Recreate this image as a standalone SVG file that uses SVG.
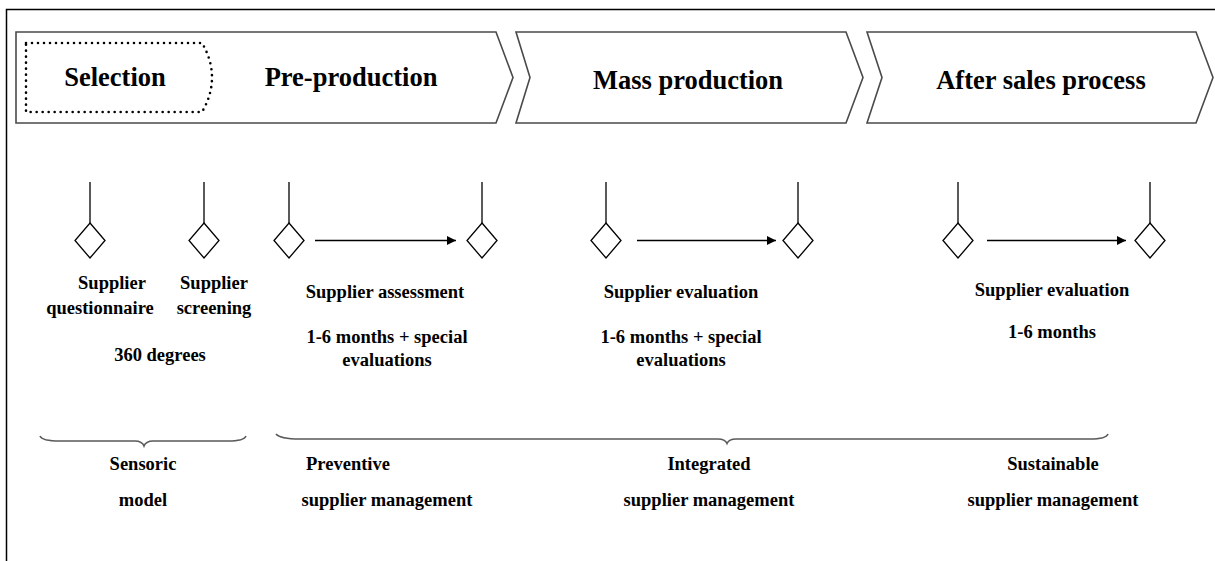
<svg xmlns="http://www.w3.org/2000/svg" width="1215" height="561" viewBox="0 0 1215 561">
  <style>
    .frame { fill: none; stroke: #000; stroke-width: 1.5; }
    .chev { fill: #fff; stroke: #4a4a4a; stroke-width: 1.6; stroke-linejoin: miter; }
    .dots { fill: none; stroke: #000; stroke-width: 2.6; stroke-dasharray: 0 6; stroke-linecap: round; }
    .title { font-family: "Liberation Serif", "Times New Roman", serif; font-weight: bold; font-size: 26.5px; fill: #000; text-anchor: middle; }
    .lbl { font-family: "Liberation Serif", "Times New Roman", serif; font-weight: bold; font-size: 18.5px; fill: #000; text-anchor: middle; }
    .stem { stroke: #000; stroke-width: 1.3; }
    .dia { fill: #fff; stroke: #000; stroke-width: 1.3; }
    .flow { stroke: #000; stroke-width: 1.3; fill: none; marker-end: url(#head); }
    .brace { fill: none; stroke: #5a5a5a; stroke-width: 1.6; }
  </style>
  <defs>
    <marker id="head" viewBox="0 0 10 10" refX="10" refY="5" markerUnits="userSpaceOnUse" markerWidth="10" markerHeight="9" orient="auto">
      <path d="M0,0 L10,5 L0,10 Z" fill="#000"/>
    </marker>
  </defs>

  <rect width="1215" height="561" fill="#fff"/>
  <!-- page frame (left and top edges) -->
  <path class="frame" d="M6.5,561 L6.5,9.5 L1215,9.5"/>

  <!-- phase chevrons -->
  <g id="phase-preproduction">
    <path class="chev" d="M16,32 L496,32 L513,77.5 L496,123 L16,123 Z"/>
    <text class="title" x="351" y="86">Pre-production</text>
  </g>
  <g id="phase-selection">
    <path class="dots" d="M26,43 L202,43 Q212,60 212,77.5 Q212,95 202,112 L26,112 Z"/>
    <text class="title" x="115" y="86">Selection</text>
  </g>
  <g id="phase-mass">
    <path class="chev" d="M516,32 L846,32 L863,77.5 L846,123 L516,123 L530,77.5 Z"/>
    <text class="title" x="688" y="89">Mass production</text>
  </g>
  <g id="phase-aftersales">
    <path class="chev" d="M867,32 L1196,32 L1213,77.5 L1196,123 L867,123 L882,77.5 Z"/>
    <text class="title" x="1041" y="89">After sales process</text>
  </g>

  <!-- milestone nodes -->
  <g id="m-questionnaire">
    <line class="stem" x1="90" y1="182" x2="90" y2="223"/>
    <path class="dia" d="M90,223 L105,240.5 L90,258 L75,240.5 Z"/>
    <text class="lbl" x="112" y="289">Supplier</text>
    <text class="lbl" x="100" y="314">questionnaire</text>
  </g>
  <g id="m-screening">
    <line class="stem" x1="204" y1="182" x2="204" y2="223"/>
    <path class="dia" d="M204,223 L219,240.5 L204,258 L189,240.5 Z"/>
    <text class="lbl" x="214" y="289">Supplier</text>
    <text class="lbl" x="214" y="314">screening</text>
  </g>
  <text class="lbl" x="160" y="361">360 degrees</text>

  <g id="m-pre-start">
    <line class="stem" x1="289" y1="182" x2="289" y2="223"/>
    <path class="dia" d="M289,223 L304,240.5 L289,258 L274,240.5 Z"/>
  </g>
  <g id="m-pre-end">
    <line class="stem" x1="482" y1="182" x2="482" y2="223"/>
    <path class="dia" d="M482,223 L497,240.5 L482,258 L467,240.5 Z"/>
  </g>
  <text class="lbl" x="385" y="298">Supplier assessment</text>
  <text class="lbl" x="387" y="343">1-6 months + special</text>
  <text class="lbl" x="387" y="366">evaluations</text>

  <g id="m-mass-start">
    <line class="stem" x1="606" y1="182" x2="606" y2="223"/>
    <path class="dia" d="M606,223 L621,240.5 L606,258 L591,240.5 Z"/>
  </g>
  <g id="m-mass-end">
    <line class="stem" x1="798" y1="182" x2="798" y2="223"/>
    <path class="dia" d="M798,223 L813,240.5 L798,258 L783,240.5 Z"/>
  </g>
  <text class="lbl" x="681" y="298">Supplier evaluation</text>
  <text class="lbl" x="681" y="343">1-6 months + special</text>
  <text class="lbl" x="681" y="366">evaluations</text>

  <g id="m-after-start">
    <line class="stem" x1="958" y1="182" x2="958" y2="223"/>
    <path class="dia" d="M958,223 L973,240.5 L958,258 L943,240.5 Z"/>
  </g>
  <g id="m-after-end">
    <line class="stem" x1="1150" y1="182" x2="1150" y2="223"/>
    <path class="dia" d="M1150,223 L1165,240.5 L1150,258 L1135,240.5 Z"/>
  </g>
  <text class="lbl" x="1052" y="296">Supplier evaluation</text>
  <text class="lbl" x="1052" y="338">1-6 months</text>

  <!-- connectors -->
  <g id="connectors">
    <line class="flow" x1="315" y1="240.5" x2="456" y2="240.5"/>
    <line class="flow" x1="637" y1="240.5" x2="776" y2="240.5"/>
    <line class="flow" x1="987" y1="240.5" x2="1126" y2="240.5"/>
  </g>

  <!-- grouping braces and model names -->
  <g id="brace-sensoric">
    <path class="brace" d="M40,436 Q42,441 60,441 L135,441 Q142,441 144,446 Q146,441 153,441 L228,441 Q244,441 246,436"/>
    <text class="lbl" x="143" y="470">Sensoric</text>
    <text class="lbl" x="143" y="506">model</text>
  </g>
  <g id="brace-management">
    <path class="brace" d="M276,434 Q280,439 300,439 L718,439 Q725,439 727,443.5 Q729,439 736,439 L1090,439 Q1106,439 1108,434"/>
  </g>
  <g id="model-preventive">
    <text class="lbl" x="348" y="470">Preventive</text>
    <text class="lbl" x="387" y="506">supplier management</text>
  </g>
  <g id="model-integrated">
    <text class="lbl" x="709" y="470">Integrated</text>
    <text class="lbl" x="709" y="506">supplier management</text>
  </g>
  <g id="model-sustainable">
    <text class="lbl" x="1053" y="470">Sustainable</text>
    <text class="lbl" x="1053" y="506">supplier management</text>
  </g>
</svg>
